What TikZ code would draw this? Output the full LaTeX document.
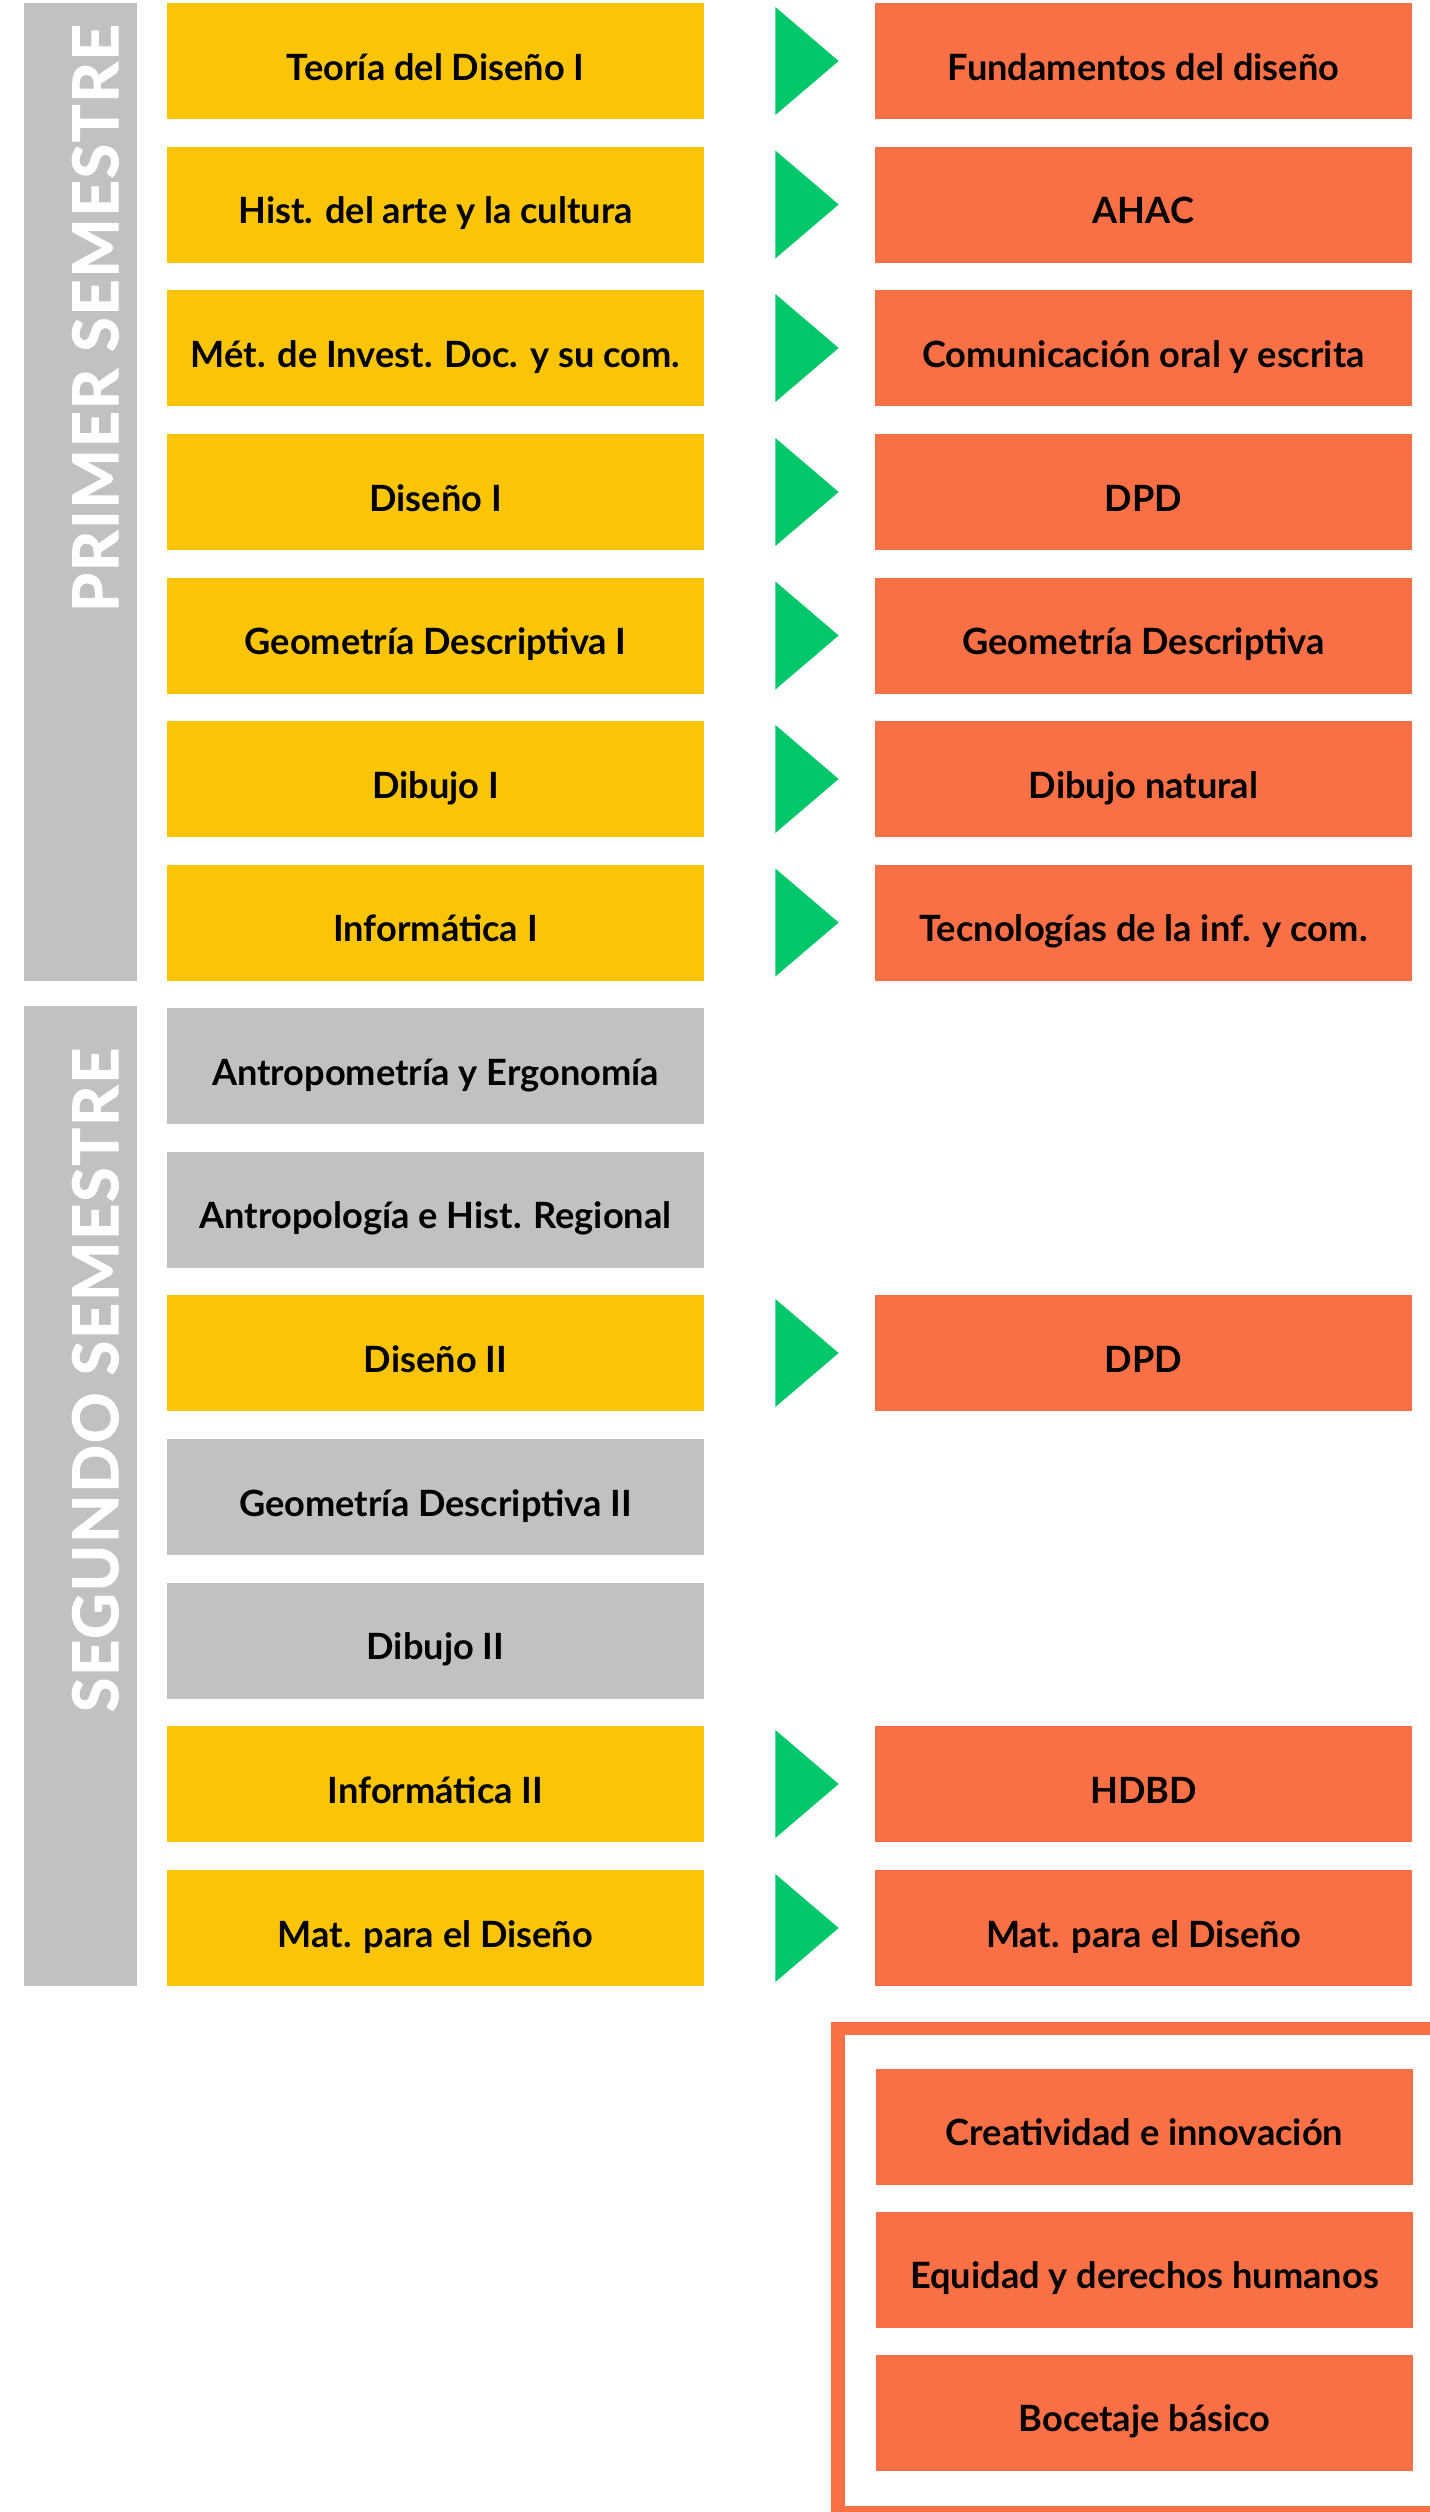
\documentclass[tikz,border=0pt]{standalone}
\usepackage{fontspec}
\setmainfont{Lato}
\usetikzlibrary{calc}
\definecolor{amarillo}{RGB}{251,197,7}
\definecolor{naranja}{RGB}{249,112,70}
\definecolor{verde}{RGB}{0,200,106}
\definecolor{gris}{RGB}{193,193,193}
\begin{document}
\begin{tikzpicture}[
    caja/.style={minimum width=10.74cm, minimum height=2.32cm, inner sep=0pt,
      text height=0.86cm, text depth=0.1cm,
      font=\fontsize{20.6}{24}\bfseries\selectfont},
    mat/.style={caja, fill=amarillo},
    libre/.style={caja, fill=gris},
    equiv/.style={caja, fill=naranja},
    sem/.style={rotate=90, anchor=base east, text=white, inner sep=0pt,
      font=\fontsize{35.7}{40}\bfseries\selectfont\addfontfeatures{FakeBold=1.6,LetterSpace=3}},
    flecha/.style={fill=verde}]
  \useasboundingbox (0,0) rectangle (28.6,-50.24);
  % Primer semestre
  \fill[gris] (0.48,-0.06) rectangle (2.74,-19.62);
  \node[sem] (s1) at (2.36,-0.48) {PRIMER SEMESTRE};
  \node[mat] (t1) at (8.71,-1.22)  {Teoría del Diseño I};
  \node[mat] (t2) at (8.71,-4.09)  {Hist. del arte y la cultura};
  \node[mat] (t3) at (8.71,-6.96)  {Mét. de Invest. Doc. y su com.};
  \node[mat] (t4) at (8.71,-9.84)  {Diseño I};
  \node[mat] (t5) at (8.71,-12.71) {Geometría Descriptiva I};
  \node[mat] (t6) at (8.71,-15.58) {Dibujo I};
  \node[mat] (t7) at (8.71,-18.45) {Informática I};
  \node[equiv] (e1) at (22.87,-1.22)  {Fundamentos del diseño};
  \node[equiv] (e2) at (22.87,-4.09)  {AHAC};
  \node[equiv] (e3) at (22.87,-6.96)  {Comunicación oral y escrita};
  \node[equiv] (e4) at (22.87,-9.84)  {DPD};
  \node[equiv] (e5) at (22.87,-12.71) {Geometría Descriptiva};
  \node[equiv] (e6) at (22.87,-15.58) {Dibujo natural};
  \node[equiv] (e7) at (22.87,-18.45) {Tecnologías de la inf. y com.};
  % Segundo semestre
  \fill[gris] (0.48,-20.12) rectangle (2.74,-39.72);
  \node[sem] (s2) at (2.36,-20.95) {SEGUNDO SEMESTRE};
  \node[libre] (t8)  at (8.71,-21.32) {Antropometría y Ergonomía};
  \node[libre] (t9)  at (8.71,-24.19) {Antropología e Hist. Regional};
  \node[mat]   (t10) at (8.71,-27.06) {Diseño II};
  \node[libre] (t11) at (8.71,-29.94) {Geometría Descriptiva II};
  \node[libre] (t12) at (8.71,-32.81) {Dibujo II};
  \node[mat]   (t13) at (8.71,-35.68) {Informática II};
  \node[mat]   (t14) at (8.71,-38.56) {Mat. para el Diseño};
  \node[equiv] (e10) at (22.87,-27.06) {DPD};
  \node[equiv] (e13) at (22.87,-35.68) {HDBD};
  \node[equiv] (e14) at (22.87,-38.56) {Mat. para el Diseño};
  % flechas
  \foreach \i in {1,...,7,10,13,14}
    \fill[flecha] ($(t\i.east)+(1.42,1.08)$) -- ($(e\i.west)+(-0.72,0)$)
      -- ($(t\i.east)+(1.42,-1.08)$) -- cycle;
  % Materias extra
  \draw[naranja, line width=0.27cm] (16.76,-40.57) rectangle (29.5,-50.255);
  \node[equiv] (x1) at (22.89,-42.53) {Creatividad e innovación};
  \node[equiv] (x2) at (22.89,-45.39) {Equidad y derechos humanos};
  \node[equiv] (x3) at (22.89,-48.25) {Bocetaje básico};
\end{tikzpicture}
\end{document}
